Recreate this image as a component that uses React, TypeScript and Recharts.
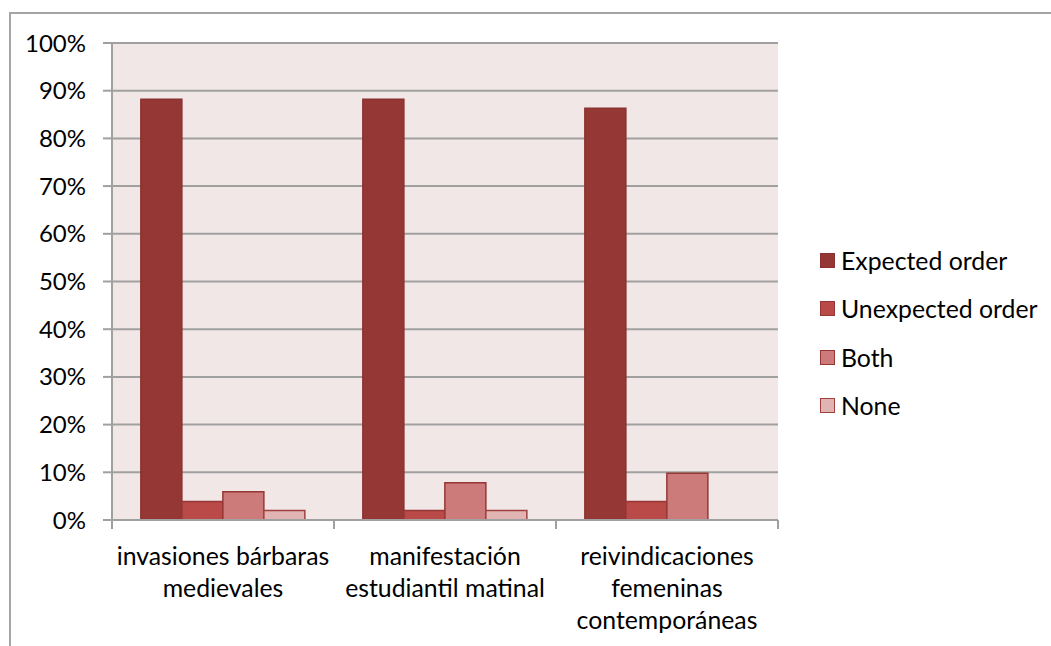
import { BarChart, Bar, XAxis, YAxis, CartesianGrid, Legend } from "recharts";

const categories = [
  "invasiones bárbaras\nmedievales",
  "manifestación\nestudiantil matinal",
  "reivindicaciones\nfemeninas\ncontemporáneas",
];
const seriesNames = ["Expected order", "Unexpected order", "Both", "None"];
const expectedOrder = [88.2, 88.2, 86.3];
const unexpectedOrder = [3.9, 2.0, 3.9];
const both = [5.9, 7.8, 9.8];
const none = [2.0, 2.0, 0];
const yTicks = [0, 10, 20, 30, 40, 50, 60, 70, 80, 90, 100];

const data = categories.map((name, i) => ({
  name,
  expected: expectedOrder[i],
  unexpected: unexpectedOrder[i],
  both: both[i],
  none: none[i],
}));

const FONT = "Lato, 'Noto Sans', sans-serif";
const AXIS_GRAY = "#a0a0a0";

function CategoryTick(props: any) {
  const { x, y, payload, index } = props;
  const half = payload.offset ?? 0;
  const lines = String(payload.value).split("\n");
  const isLast = index === categories.length - 1;
  return (
    <g>
      <line x1={x - half} x2={x - half} y1={y - 9} y2={y} stroke={AXIS_GRAY} strokeWidth={2} />
      {isLast && (
        <line x1={x + half} x2={x + half} y1={y - 9} y2={y} stroke={AXIS_GRAY} strokeWidth={2} />
      )}
      <text x={x} y={y + 26} textAnchor="middle" fontSize={24.8} fontFamily={FONT} fill="#000">
        {lines.map((l, i) => (
          <tspan key={i} x={x} dy={i === 0 ? 0 : 32} dominantBaseline="central">
            {l}
          </tspan>
        ))}
      </text>
    </g>
  );
}

function LegendBox(props: any) {
  const items = [...(props.payload || [])].sort(
    (a: any, b: any) => seriesNames.indexOf(a.value) - seriesNames.indexOf(b.value)
  );
  return (
    <div style={{ fontFamily: FONT, fontSize: 24.8, color: "#000" }}>
      {items.map((p: any) => (
        <div key={p.value} style={{ display: "flex", alignItems: "center", height: 48.5 }}>
          <span
            style={{
              display: "inline-block",
              width: 13,
              height: 13,
              background: p.payload.fill,
              border: `1.5px solid ${p.payload.stroke}`,
              marginRight: 6,
            }}
          />
          <span>{p.value}</span>
        </div>
      ))}
    </div>
  );
}

export default function App() {
  return (
    <div style={{ position: "fixed", inset: 0, overflow: "hidden", background: "#fff" }}>
      <div
        style={{
          position: "absolute",
          left: 9,
          top: 12,
          width: 1100,
          height: 700,
          border: "2px solid #a5a5a5",
        }}
      />
      <div style={{ position: "absolute", left: 0, top: 0 }}>
        <BarChart
          width={1051}
          height={646}
          data={data}
          margin={{ top: 43, right: 273, bottom: 26, left: 52 }}
          barCategoryGap="13%"
          barGap={0}
        >
          <CartesianGrid vertical={false} fill="#f2e7e7" stroke={AXIS_GRAY} strokeWidth={2} />
          <XAxis
            dataKey="name"
            height={100}
            interval={0}
            tickSize={9}
            tickMargin={0}
            tickLine={false}
            axisLine={{ stroke: AXIS_GRAY, strokeWidth: 2 }}
            tick={<CategoryTick />}
          />
          <YAxis
            width={60}
            domain={[0, 100]}
            ticks={yTicks}
            interval={0}
            tickFormatter={(v: number) => `${v}%`}
            tickSize={9}
            tickMargin={17}
            axisLine={{ stroke: AXIS_GRAY, strokeWidth: 2 }}
            tickLine={{ stroke: AXIS_GRAY, strokeWidth: 2 }}
            tick={{ fill: "#000", fontSize: 24, fontFamily: FONT }}
          />
          <Legend
            layout="vertical"
            align="center"
            verticalAlign="middle"
            wrapperStyle={{ left: 820, top: 236, width: 231 }}
            content={<LegendBox />}
          />
          <Bar dataKey="expected" name="Expected order" fill="#953735" stroke="#8a3230" strokeWidth={1.5} isAnimationActive={false} />
          <Bar dataKey="unexpected" name="Unexpected order" fill="#b94a48" stroke="#953735" strokeWidth={1.5} isAnimationActive={false} />
          <Bar dataKey="both" name="Both" fill="#cd7b7a" stroke="#953735" strokeWidth={1.5} isAnimationActive={false} />
          <Bar dataKey="none" name="None" fill="#e0b4b3" stroke="#a0403e" strokeWidth={1.5} isAnimationActive={false} />
        </BarChart>
      </div>
    </div>
  );
}
